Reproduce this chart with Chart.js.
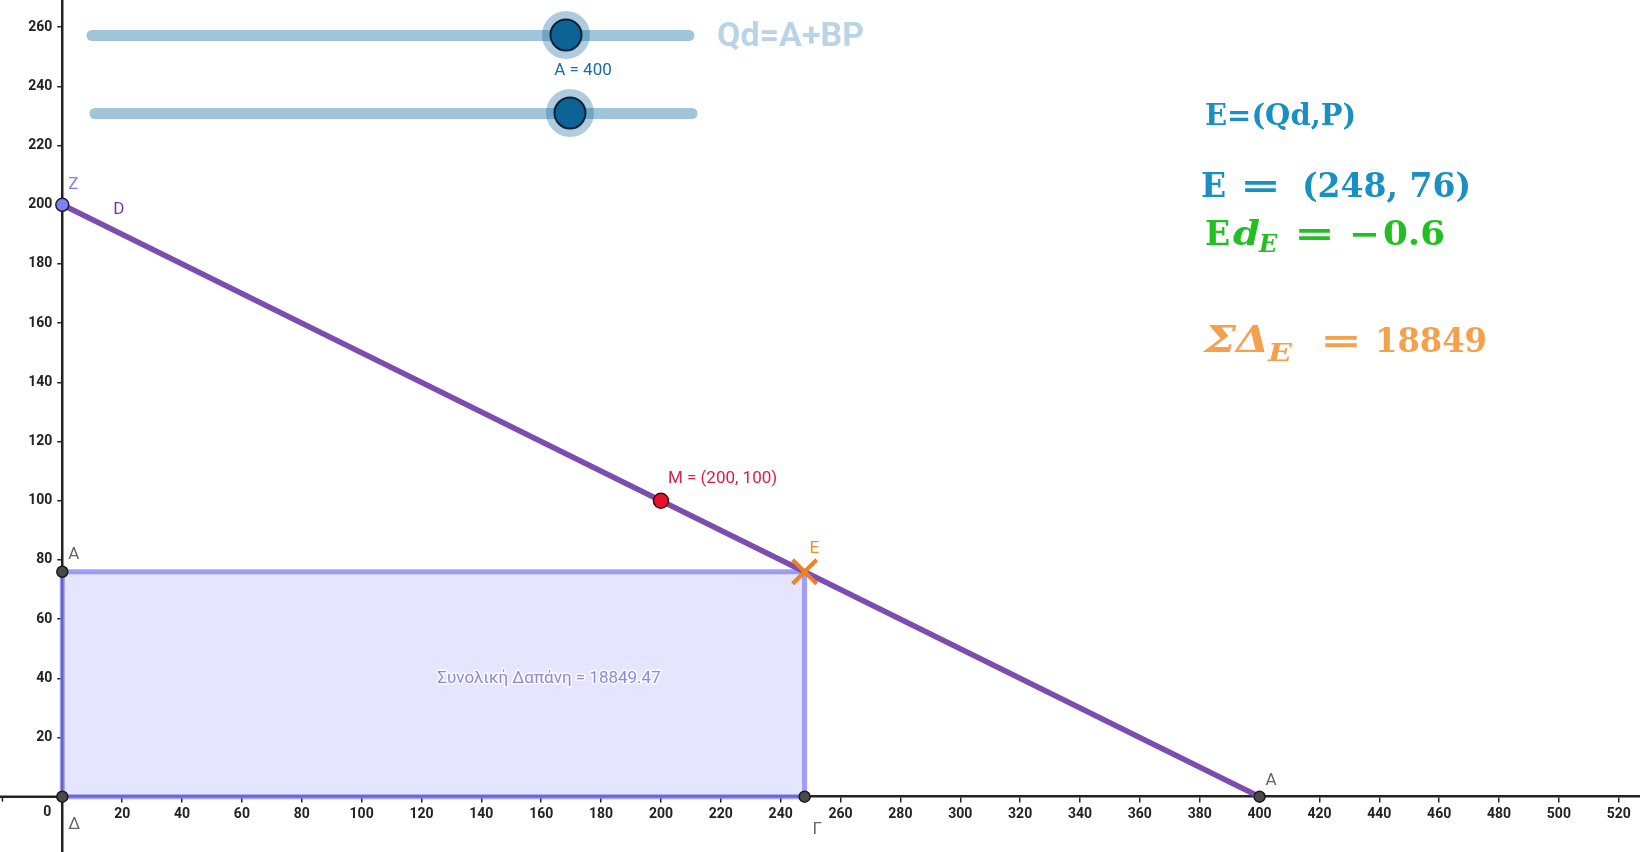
<!DOCTYPE html>
<html><head><meta charset="utf-8">
<script src="https://cdn.jsdelivr.net/npm/chart.js@4/dist/chart.umd.min.js"></script>
<style>html,body{margin:0;padding:0;background:#fff;overflow:hidden}#wrap{width:1640px;height:852px;position:relative}</style>
</head><body><div id="wrap"><canvas id="c"></canvas></div>
<script>
// ---------- data ----------
const demandLine = [{x:0,y:200},{x:400,y:0}];
const spendingRect = [{x:0,y:0},{x:0,y:76},{x:248,y:76},{x:248,y:0}];
const spendingBase = [{x:0,y:0},{x:248,y:0}];
const pointM = [{x:200,y:100}];
const pointE = [{x:248,y:76}];
const pointZ = [{x:0,y:200}];
const grayPoints = [{x:0,y:76},{x:0,y:0},{x:248,y:0},{x:400,y:0}];
const grayPointNames = ['A','Δ','Γ','A'];
const xTickValues = [20,40,60,80,100,120,140,160,180,200,220,240,260,280,300,320,340,360,380,400,420,440,460,480,500,520];
const yTickValues = [20,40,60,80,100,120,140,160,180,200,220,240,260];
const sliderA = 400;
const elasticityE = -0.6;
const totalSpending = 18849.47;

// ---------- drawing ----------
const AXIS_PX = 62.3;
const tickFont = {family:'Roboto', size:14, weight:'bold'};

function piece(ctx, str, font, x, baseY, stretchW){
  ctx.font = font;
  if (stretchW){
    const w = ctx.measureText(str).width;
    ctx.save(); ctx.translate(x, baseY); ctx.scale(stretchW / w, 1); ctx.fillText(str, 0, 0); ctx.restore();
  } else ctx.fillText(str, x, baseY);
}

const axisExtension = {
  id:'axisExtension',
  beforeDatasetsDraw(chart){
    const {ctx, scales:{x, y}} = chart;
    const y0 = y.getPixelForValue(0);
    ctx.save();
    ctx.strokeStyle = '#222'; ctx.lineWidth = 2.5;
    ctx.beginPath(); ctx.moveTo(0, y0); ctx.lineTo(x.getPixelForValue(0), y0); ctx.stroke();
    ctx.lineWidth = 1.5;
    const xt = x.getPixelForValue(-20);
    ctx.beginPath(); ctx.moveTo(xt, y0); ctx.lineTo(xt, y0 + 5); ctx.stroke();
    ctx.restore();
  }
};

const overlay = {
  id:'overlay',
  afterDraw(chart){
    const {ctx, scales:{x, y}} = chart;
    const px = v => x.getPixelForValue(v), py = v => y.getPixelForValue(v);
    ctx.save();
    // origin label
    ctx.font = 'bold 14px Roboto'; ctx.fillStyle = '#222'; ctx.textAlign = 'center'; ctx.textBaseline = 'middle';
    ctx.fillText('0', px(0) - 15, py(0) + 16);

    // point labels
    ctx.font = '17px Roboto'; ctx.textAlign = 'left'; ctx.textBaseline = 'middle';
    const lab = (t, col, ax, ay, dx, dy) => { ctx.fillStyle = col; ctx.fillText(t, px(ax) + dx, py(ay) + dy); };
    lab('Z', '#8080f8', pointZ[0].x, pointZ[0].y, 6, -20);
    lab('D', '#6a3aa8', demandLine[0].x, demandLine[0].y, 51, 5);
    const gOff = [[6,-17],[6,28],[8,33],[6,-16]];
    grayPoints.forEach((p,i) => lab(grayPointNames[i], '#666', p.x, p.y, gOff[i][0], gOff[i][1]));
    lab('E', '#f0902a', pointE[0].x, pointE[0].y, 5, -23);
    lab(`M = (${pointM[0].x}, ${pointM[0].y})`, '#d8204a', pointM[0].x, pointM[0].y, 7, -22);

    // text inside the rectangle
    ctx.textAlign = 'center';
    const t = `Συνολική Δαπάνη = ${totalSpending}`;
    ctx.lineWidth = 3; ctx.strokeStyle = 'rgba(255,255,255,0.85)'; ctx.lineJoin = 'round';
    ctx.strokeText(t, 549, 679);
    ctx.fillStyle = '#8a8ade'; ctx.fillText(t, 549, 679);

    // sliders
    const slider = (x0, x1, yy, kx, ky) => {
      ctx.lineCap = 'round'; ctx.lineWidth = 11; ctx.strokeStyle = '#9ec5da';
      ctx.beginPath(); ctx.moveTo(x0, yy); ctx.lineTo(x1, yy); ctx.stroke();
      ctx.fillStyle = 'rgba(30,105,160,0.35)';
      ctx.beginPath(); ctx.arc(kx, ky, 24, 0, Math.PI*2); ctx.fill();
      ctx.fillStyle = '#0d6296'; ctx.strokeStyle = '#0a2436'; ctx.lineWidth = 2;
      ctx.beginPath(); ctx.arc(kx, ky, 15.5, 0, Math.PI*2); ctx.fill(); ctx.stroke();
    };
    slider(92, 689, 35.5, 566, 35);
    slider(95, 692, 113.5, 570, 113);
    ctx.font = '17px Roboto'; ctx.fillStyle = '#1d6b9c'; ctx.textAlign = 'center'; ctx.textBaseline = 'middle';
    ctx.fillText(`A = ${sliderA}`, 583, 71);
    ctx.font = 'bold 34px Roboto'; ctx.fillStyle = '#b8d4e6'; ctx.textAlign = 'left';
    ctx.fillText('Qd=A+BP', 717, 37);

    // math texts on the right
    ctx.textAlign = 'left'; ctx.textBaseline = 'alphabetic';
    const B = 'bold 33px "DejaVu Serif"', BI = 'italic bold 33px "DejaVu Serif"', SUB = 'italic bold 24px "DejaVu Serif"';
    const GR = 'italic bold 37px "DejaVu Serif"';
    ctx.fillStyle = '#1a8fc2';
    piece(ctx, 'E=(Qd,P)', 'bold 29px "DejaVu Serif"', 1205, 125);
    piece(ctx, 'E', B, 1201, 197);
    piece(ctx, '=', B, 1240, 197, 41);
    piece(ctx, `(${pointE[0].x}, ${pointE[0].y})`, B, 1302, 197);
    ctx.fillStyle = '#22bf22';
    piece(ctx, 'E', B, 1205, 245);
    piece(ctx, 'd', BI, 1233, 245, 27);
    piece(ctx, 'E', SUB, 1259, 252);
    piece(ctx, '=', B, 1294, 245, 41);
    piece(ctx, '−', B, 1349, 245, 31);
    piece(ctx, String(Math.abs(elasticityE)), B, 1383, 245, 62);
    ctx.fillStyle = '#f5a04c';
    piece(ctx, 'Σ', GR, 1204, 352, 32);
    piece(ctx, 'Δ', GR, 1236, 352, 33);
    piece(ctx, 'E', SUB, 1268, 361, 24);
    piece(ctx, '=', B, 1320, 352, 42);
    piece(ctx, String(Math.round(totalSpending)), B, 1375, 352, 112);
    ctx.restore();
  }
};

new Chart(document.getElementById('c'), {
  type:'scatter',
  data:{datasets:[
    {data:pointE, pointStyle:'crossRot', pointRadius:17, borderColor:'#f2801e', pointBorderWidth:4, backgroundColor:'#f2801e', clip:false},
    {data:pointM, pointRadius:7.5, backgroundColor:'#e8102f', borderColor:'#4a0010', pointBorderWidth:1.5, clip:false},
    {data:grayPoints, pointRadius:5.5, backgroundColor:'#4a4a4a', borderColor:'#1a1a1a', pointBorderWidth:1.5, clip:false},
    {data:pointZ, pointRadius:6.5, backgroundColor:'#8080ff', borderColor:'#222', pointBorderWidth:1.5, clip:false},
    {data:demandLine, showLine:true, borderColor:'#7c4dae', borderWidth:5.5, pointRadius:0, tension:0, clip:false},
    {data:spendingBase, showLine:true, borderColor:'rgba(125,125,248,0.72)', borderWidth:5, pointRadius:0, tension:0, clip:false},
    {data:spendingRect, showLine:true, fill:'origin', backgroundColor:'rgba(153,153,255,0.25)', borderColor:'rgba(125,125,248,0.72)', borderWidth:5, pointRadius:0, tension:0, clip:false}
  ]},
  options:{
    responsive:true, maintainAspectRatio:false, animation:false, events:[],
    layout:{padding:0, autoPadding:false},
    plugins:{legend:{display:false}, tooltip:{enabled:false}},
    scales:{
      x:{
        type:'linear', min:0, max:527.1, position:{y:0},
        afterBuildTicks: s => { s.ticks = xTickValues.map(v => ({value:v})); },
        afterFit: s => { s.paddingLeft = 0; s.paddingRight = 0; s.paddingTop = 0; s.paddingBottom = 0; },
        ticks:{font:tickFont, color:'#222', padding:4, maxRotation:0, autoSkip:false},
        grid:{drawOnChartArea:false, drawTicks:true, tickLength:5, tickColor:'#222', lineWidth:1.5},
        border:{display:true, color:'#222', width:2.5}
      },
      y:{
        type:'linear', min:-18.7, max:269.2, position:'left',
        afterBuildTicks: s => { s.ticks = yTickValues.map(v => ({value:v})); },
        afterFit: s => { s.width = AXIS_PX; s.paddingTop = 0; s.paddingBottom = 0; s.paddingLeft = 0; s.paddingRight = 0; },
        ticks:{font:tickFont, color:'#222', padding:5, autoSkip:false},
        grid:{drawOnChartArea:false, drawTicks:true, tickLength:5, tickColor:'#222', lineWidth:1.5},
        border:{display:true, color:'#222', width:2.5}
      }
    }
  },
  plugins:[axisExtension, overlay]
});
</script></body></html>
